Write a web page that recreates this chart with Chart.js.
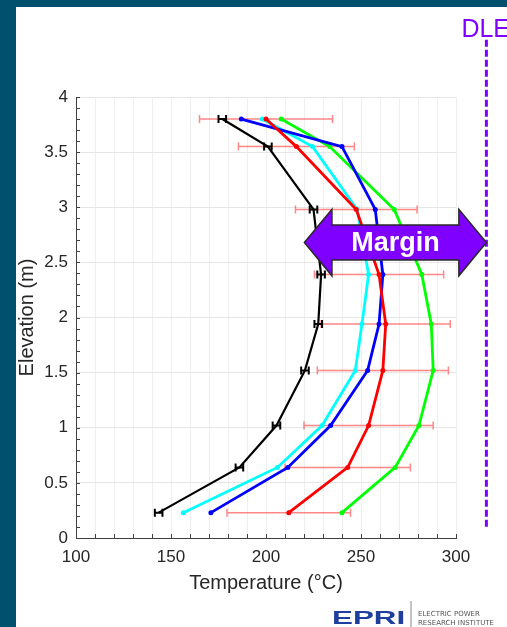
<!DOCTYPE html>
<html>
<head>
<meta charset="utf-8">
<script src="https://cdn.jsdelivr.net/npm/chart.js@4.4.0/dist/chart.umd.min.js"></script>
<style>
  body { margin: 0; background: #00506e; }
  canvas { display: block; }
</style>
</head>
<body>
<canvas id="tempChart" width="507" height="627"></canvas>
<script>
// elevation of each thermocouple level (m)
const elevation = [3.8, 3.55, 2.98, 2.39, 1.94, 1.52, 1.02, 0.64, 0.23]

// temperature profiles (°C)
const blackTemps = [177, 201, 225, 229, 227.5, 220.5, 205.5, 186, 143.5]
const redTemps = [200, 216, 247.5, 259.5, 263, 261.5, 254, 243, 212]
const blueTemps = [187, 240, 257.5, 261.5, 259.5, 253.5, 234, 211.5, 171]
const cyanTemps = [198, 224.5, 248, 254, 250.5, 247, 229.5, 206, 156.5]
const greenTemps = [208, 233.5, 267.5, 282, 287, 288, 280.5, 268, 240]

// horizontal error bars (± °C)
const redErr = [35, 30.5, 32, 34, 34, 34.5, 34, 33, 32.5]
const blackErr = [2, 2, 2, 2, 2, 2, 2, 2, 2]

const xTicks = [100, 150, 200, 250, 300]
const dleTemp = 316
const marginFrom = 220.2
const marginElev = 2.68

const toPoints = (temps) => temps.map((t, i) => ({x: t, y: elevation[i]}))

const makeSet = (temps, color, radius, width) => ({
	data: toPoints(temps),
	showLine: true,
	borderColor: color,
	backgroundColor: color,
	borderWidth: width,
	pointBorderWidth: 0,
	pointRadius: radius,
	pointHoverRadius: radius
})

const extras = {
	id: 'extras',
	beforeDraw(chart) {
		const {ctx, width, height} = chart
		ctx.save()
		ctx.fillStyle = '#00506e'
		ctx.fillRect(0, 0, width, height)
		ctx.fillStyle = '#ffffff'
		ctx.fillRect(16, 7, width - 16, height - 7)
		ctx.restore()
	},
	beforeDatasetsDraw(chart) {
		const {ctx, scales: {x, y}} = chart
		ctx.save()
		ctx.strokeStyle = 'rgba(255,70,70,0.65)'
		ctx.lineWidth = 1.5
		redTemps.forEach((t, i) => {
			const yy = y.getPixelForValue(elevation[i])
			const x1 = x.getPixelForValue(t - redErr[i])
			const x2 = x.getPixelForValue(t + redErr[i])
			ctx.beginPath()
			ctx.moveTo(x1, yy); ctx.lineTo(x2, yy)
			ctx.moveTo(x1, yy - 4); ctx.lineTo(x1, yy + 4)
			ctx.moveTo(x2, yy - 4); ctx.lineTo(x2, yy + 4)
			ctx.stroke()
		})
		ctx.restore()
	},
	afterDatasetsDraw(chart) {
		const {ctx, chartArea, scales: {x, y}} = chart
		ctx.save()

		// black error bars
		ctx.strokeStyle = '#000'
		ctx.lineWidth = 2
		blackTemps.forEach((t, i) => {
			const yy = y.getPixelForValue(elevation[i])
			const x1 = x.getPixelForValue(t - blackErr[i])
			const x2 = x.getPixelForValue(t + blackErr[i])
			ctx.beginPath()
			ctx.moveTo(x1, yy); ctx.lineTo(x2, yy)
			ctx.moveTo(x1, yy - 4); ctx.lineTo(x1, yy + 4)
			ctx.moveTo(x2, yy - 4); ctx.lineTo(x2, yy + 4)
			ctx.stroke()
		})

		// inner minor ticks
		ctx.strokeStyle = '#404040'
		ctx.lineWidth = 1
		ctx.beginPath()
		for (let v = 100; v <= 300; v += 10) {
			const px = Math.round(x.getPixelForValue(v)) + 0.5
			ctx.moveTo(px, chartArea.bottom); ctx.lineTo(px, chartArea.bottom - 4)
		}
		for (let k = 0; k <= 40; k++) {
			const py = Math.round(y.getPixelForValue(k / 10)) + 0.5
			ctx.moveTo(chartArea.left, py); ctx.lineTo(chartArea.left + 4, py)
		}
		ctx.stroke()

		// DLE line
		const dx = x.getPixelForValue(dleTemp)
		ctx.strokeStyle = '#8000ff'
		ctx.lineWidth = 3
		ctx.setLineDash([7, 3])
		ctx.beginPath()
		ctx.moveTo(dx, y.getPixelForValue(4.52))
		ctx.lineTo(dx, y.getPixelForValue(0.09))
		ctx.stroke()
		ctx.setLineDash([])
		ctx.fillStyle = '#8000ff'
		ctx.font = '25px "Liberation Sans", Arial, sans-serif'
		ctx.textAlign = 'left'
		ctx.textBaseline = 'alphabetic'
		ctx.fillText('DLE', dx - 25, 37)

		// margin arrow
		const xl = x.getPixelForValue(marginFrom)
		const xr = dx
		const yc = y.getPixelForValue(marginElev)
		const bh = y.getPixelForValue(marginElev - 0.159) - yc
		const hh = y.getPixelForValue(marginElev - 0.302) - yc
		const hl = x.getPixelForValue(marginFrom + 14.5) - xl
		ctx.beginPath()
		ctx.moveTo(xl, yc)
		ctx.lineTo(xl + hl, yc - hh)
		ctx.lineTo(xl + hl, yc - bh)
		ctx.lineTo(xr - hl, yc - bh)
		ctx.lineTo(xr - hl, yc - hh)
		ctx.lineTo(xr, yc)
		ctx.lineTo(xr - hl, yc + hh)
		ctx.lineTo(xr - hl, yc + bh)
		ctx.lineTo(xl + hl, yc + bh)
		ctx.lineTo(xl + hl, yc + hh)
		ctx.closePath()
		ctx.fillStyle = '#7f00ff'
		ctx.fill()
		ctx.strokeStyle = '#2a2a2a'
		ctx.lineWidth = 1.5
		ctx.stroke()
		ctx.fillStyle = '#ffffff'
		ctx.font = 'bold 27px "Liberation Sans", Arial, sans-serif'
		ctx.textAlign = 'center'
		ctx.textBaseline = 'middle'
		ctx.fillText('Margin', (xl + xr) / 2, yc + 1)

		// EPRI logo
		ctx.save()
		ctx.translate(332, 624)
		ctx.scale(1.65, 1)
		ctx.fillStyle = '#1f3f9f'
		ctx.font = 'bold 19px "Liberation Sans", Arial, sans-serif'
		ctx.textAlign = 'left'
		ctx.textBaseline = 'alphabetic'
		ctx.fillText('EPRI', 0, 0)
		ctx.restore()
		ctx.strokeStyle = '#888'
		ctx.lineWidth = 1
		ctx.beginPath()
		ctx.moveTo(411, 601); ctx.lineTo(411, 627)
		ctx.stroke()
		ctx.fillStyle = '#555'
		ctx.font = '7px "DejaVu Sans", sans-serif'
		ctx.textAlign = 'left'
		ctx.fillText('ELECTRIC POWER', 418, 614)
		ctx.fillText('RESEARCH INSTITUTE', 418, 623)

		ctx.restore()
	}
}

new Chart(document.getElementById('tempChart').getContext('2d'), {
	type: 'scatter',
	data: {
		datasets: [
			makeSet(blackTemps, '#000000', 0, 2.2),
			makeSet(redTemps, '#ff0000', 2.5, 2.8),
			makeSet(blueTemps, '#0000ff', 2.5, 2.8),
			makeSet(cyanTemps, '#00ffff', 2.5, 2.8),
			makeSet(greenTemps, '#00ff00', 2.5, 2.8)
		]
	},
	options: {
		responsive: false,
		animation: false,
		layout: {padding: {left: 0, top: 97, right: 51, bottom: 0}},
		plugins: {
			legend: {display: false},
			tooltip: {enabled: false}
		},
		scales: {
			x: {
				type: 'linear',
				min: 100,
				max: 300,
				afterFit: (scale) => { scale.height = 89 },
				border: {color: '#404040', width: 1},
				grid: {color: '#efefef', drawTicks: false},
				ticks: {
					stepSize: 10,
					autoSkip: false,
					maxRotation: 0,
					padding: 9,
					color: '#262626',
					font: {size: 17, family: '"Liberation Sans", Arial, sans-serif'},
					callback: (v) => xTicks.includes(v) ? v : ''
				},
				title: {
					display: true,
					text: 'Temperature (°C)',
					color: '#262626',
					font: {size: 20, family: '"Liberation Sans", Arial, sans-serif'},
					padding: {top: 0, bottom: 32}
				}
			},
			y: {
				type: 'linear',
				min: 0,
				max: 4,
				afterFit: (scale) => { scale.width = 76 },
				border: {color: '#404040', width: 1},
				grid: {color: '#e6e6e6', drawTicks: false},
				ticks: {
					stepSize: 0.5,
					padding: 8,
					color: '#262626',
					font: {size: 17, family: '"Liberation Sans", Arial, sans-serif'},
					callback: (v) => String(v)
				},
				title: {
					display: true,
					text: 'Elevation (m)',
					color: '#262626',
					font: {size: 20, family: '"Liberation Sans", Arial, sans-serif'},
					padding: {top: 15, bottom: 0}
				}
			}
		}
	},
	plugins: [extras]
})
</script>
</body>
</html>
